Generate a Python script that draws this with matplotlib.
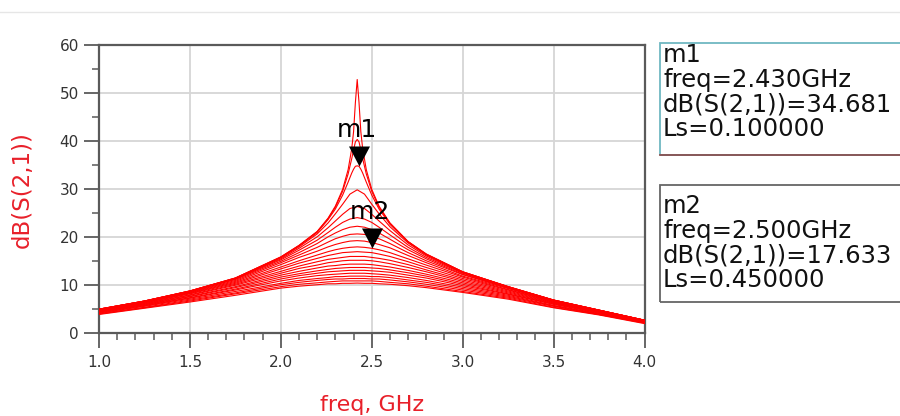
import numpy as np
import matplotlib
matplotlib.use("Agg")
import matplotlib.pyplot as plt
from matplotlib.ticker import MultipleLocator
from matplotlib.patches import Rectangle
from matplotlib.lines import Line2D

plt.rcParams['font.family'] = ['DejaVu Sans']

# ---------------- data ----------------
freq_sharp = [1.0, 1.25, 1.5, 1.75, 2.0, 2.1, 2.2, 2.26, 2.3, 2.34, 2.37, 2.39, 2.4, 2.41,
              2.42, 2.43, 2.44, 2.45, 2.47, 2.5, 2.54, 2.6, 2.7, 2.8, 3.0, 3.25, 3.5, 3.75, 4.0]
ls_sharp = [0.00, 0.05, 0.10]
db_ls000 = [4.9, 6.6, 8.7, 11.4, 15.8, 18.2, 21.1, 23.9, 26.4, 29.9, 34.0, 38.4, 41.9, 48.0,
            52.8, 48.0, 41.9, 38.4, 34.0, 29.9, 26.4, 22.9, 19.0, 16.4, 12.7, 9.6, 6.8, 4.7, 2.6]
db_ls005 = [4.9, 6.6, 8.7, 11.4, 15.8, 18.2, 21.1, 23.8, 26.2, 29.5, 33.1, 36.3, 38.1, 39.8,
            40.3, 39.8, 38.1, 36.3, 33.1, 29.5, 26.2, 22.8, 19.0, 16.4, 12.7, 9.6, 6.8, 4.7, 2.6]
db_ls010 = [4.9, 6.6, 8.7, 11.4, 15.7, 18.1, 20.9, 23.6, 25.8, 28.7, 31.4, 33.3, 34.1, 34.7,
            34.8, 34.7, 34.1, 33.3, 31.4, 28.7, 25.8, 22.6, 18.9, 16.3, 12.7, 9.6, 6.8, 4.7, 2.6]

freq_broad = [1.0, 1.25, 1.5, 1.75, 2.0, 2.1, 2.2, 2.26, 2.3, 2.34, 2.38, 2.42, 2.46, 2.5,
              2.54, 2.6, 2.7, 2.8, 3.0, 3.25, 3.5, 3.75, 4.0]
ls_broad = [0.15, 0.20, 0.25, 0.30, 0.35, 0.40, 0.45, 0.50, 0.55, 0.60, 0.65, 0.70,
            0.75, 0.80, 0.85, 0.90, 0.95, 1.00]
db_broad = [
    [4.9, 6.6, 8.7, 11.3, 15.6, 17.9, 20.6, 22.9, 24.8, 26.8, 28.9, 29.8, 28.9, 26.8, 24.8, 22.1, 18.7, 16.2, 12.6, 9.6, 6.8, 4.7, 2.6],
    [4.9, 6.6, 8.6, 11.3, 15.4, 17.6, 20.0, 21.9, 23.3, 24.7, 25.9, 26.3, 25.9, 24.7, 23.3, 21.3, 18.3, 16.0, 12.5, 9.5, 6.8, 4.7, 2.6],
    [4.8, 6.5, 8.6, 11.2, 15.2, 17.2, 19.3, 20.9, 22.0, 23.0, 23.7, 24.0, 23.7, 23.0, 22.0, 20.4, 17.8, 15.7, 12.4, 9.4, 6.7, 4.7, 2.6],
    [4.8, 6.5, 8.5, 11.1, 14.9, 16.7, 18.6, 20.0, 20.8, 21.5, 22.0, 22.2, 22.0, 21.5, 20.8, 19.5, 17.3, 15.4, 12.2, 9.4, 6.7, 4.6, 2.6],
    [4.8, 6.4, 8.4, 10.9, 14.6, 16.2, 17.8, 18.9, 19.6, 20.1, 20.5, 20.6, 20.5, 20.1, 19.6, 18.6, 16.7, 15.0, 12.1, 9.3, 6.6, 4.6, 2.5],
    [4.7, 6.4, 8.3, 10.7, 14.2, 15.7, 17.0, 17.9, 18.4, 18.8, 19.1, 19.2, 19.1, 18.8, 18.4, 17.7, 16.1, 14.6, 11.8, 9.2, 6.6, 4.6, 2.5],
    [4.7, 6.3, 8.2, 10.5, 13.7, 15.0, 16.2, 16.9, 17.3, 17.6, 17.8, 17.9, 17.8, 17.6, 17.3, 16.7, 15.4, 14.1, 11.6, 9.0, 6.5, 4.5, 2.5],
    [4.6, 6.2, 8.1, 10.3, 13.3, 14.5, 15.5, 16.1, 16.4, 16.7, 16.8, 16.9, 16.8, 16.7, 16.4, 15.9, 14.8, 13.6, 11.3, 8.9, 6.4, 4.4, 2.4],
    [4.6, 6.1, 7.9, 10.1, 12.8, 13.9, 14.8, 15.3, 15.5, 15.7, 15.9, 15.9, 15.9, 15.7, 15.5, 15.1, 14.2, 13.1, 11.0, 8.7, 6.3, 4.4, 2.4],
    [4.5, 6.0, 7.8, 9.9, 12.4, 13.4, 14.1, 14.6, 14.8, 15.0, 15.1, 15.1, 15.1, 15.0, 14.8, 14.4, 13.6, 12.7, 10.7, 8.5, 6.2, 4.3, 2.4],
    [4.4, 5.9, 7.6, 9.6, 12.0, 12.8, 13.5, 13.9, 14.0, 14.2, 14.3, 14.3, 14.3, 14.2, 14.0, 13.7, 13.0, 12.2, 10.4, 8.3, 6.1, 4.3, 2.3],
    [4.4, 5.8, 7.5, 9.4, 11.6, 12.3, 12.9, 13.2, 13.4, 13.5, 13.6, 13.6, 13.6, 13.5, 13.4, 13.1, 12.5, 11.8, 10.1, 8.1, 6.0, 4.2, 2.3],
    [4.3, 5.7, 7.3, 9.1, 11.2, 11.9, 12.4, 12.7, 12.8, 12.9, 13.0, 13.0, 13.0, 12.9, 12.8, 12.6, 12.0, 11.4, 9.8, 8.0, 5.9, 4.1, 2.2],
    [4.2, 5.6, 7.2, 8.9, 10.8, 11.4, 11.9, 12.1, 12.2, 12.3, 12.4, 12.4, 12.4, 12.3, 12.2, 12.0, 11.5, 10.9, 9.5, 7.8, 5.7, 4.0, 2.2],
    [4.1, 5.5, 7.0, 8.6, 10.3, 10.9, 11.3, 11.5, 11.7, 11.7, 11.8, 11.8, 11.8, 11.7, 11.7, 11.5, 11.0, 10.5, 9.2, 7.6, 5.6, 3.9, 2.1],
    [4.0, 5.3, 6.8, 8.3, 10.0, 10.5, 10.9, 11.1, 11.2, 11.2, 11.3, 11.3, 11.3, 11.2, 11.2, 11.0, 10.6, 10.1, 8.9, 7.4, 5.5, 3.8, 2.1],
    [3.9, 5.2, 6.6, 8.1, 9.6, 10.1, 10.4, 10.6, 10.7, 10.8, 10.8, 10.8, 10.8, 10.8, 10.7, 10.5, 10.2, 9.7, 8.6, 7.2, 5.3, 3.8, 2.0],
    [3.8, 5.1, 6.4, 7.8, 9.3, 9.7, 10.0, 10.2, 10.2, 10.3, 10.3, 10.35, 10.3, 10.3, 10.2, 10.1, 9.8, 9.4, 8.4, 7.0, 5.2, 3.7, 1.9],
]

x_ticks = [1.0, 1.5, 2.0, 2.5, 3.0, 3.5, 4.0]
x_tick_labels = ['1.0', '1.5', '2.0', '2.5', '3.0', '3.5', '4.0']
y_ticks = [0, 10, 20, 30, 40, 50, 60]
y_tick_labels = ['0', '10', '20', '30', '40', '50', '60']

m1_name, m1_freq, m1_val, m1_ls = 'm1', 2.430, 34.681, 0.100000
m2_name, m2_freq, m2_val, m2_ls = 'm2', 2.500, 17.633, 0.450000

# ---------------- figure ----------------
W, H = 900, 416
fig = plt.figure(figsize=(W / 100, H / 100), dpi=100)
fig.patch.set_facecolor('white')

def fx(px):
    return px / W

def fy(py):
    return 1 - py / H

ax_l, ax_r, ax_t, ax_b = 99, 644.5, 45, 332.7
ax = fig.add_axes([fx(ax_l), fy(ax_b), (ax_r - ax_l) / W, (ax_b - ax_t) / H])

red = '#ff0000'
for ys in [db_ls000, db_ls005, db_ls010]:
    ax.plot(freq_sharp, ys, color=red, lw=0.8, zorder=3)
for ys in db_broad:
    ax.plot(freq_broad, ys, color=red, lw=0.8, zorder=3)

ax.set_xlim(1.0, 4.0)
ax.set_ylim(0, 60)
ax.set_xticks(x_ticks)
ax.set_xticklabels(x_tick_labels)
ax.set_yticks(y_ticks)
ax.set_yticklabels(y_tick_labels)
ax.xaxis.set_minor_locator(MultipleLocator(0.1))
ax.yaxis.set_minor_locator(MultipleLocator(5))
ax.set_axisbelow(True)
ax.grid(which='major', color='#d6d6d6', lw=1.3)
axis_gray = '#5a5a5a'
ax.tick_params(which='major', direction='out', length=11, width=1.3, color=axis_gray,
               labelsize=11, labelcolor='#333333')
ax.tick_params(axis='x', which='major', pad=5)
ax.tick_params(axis='y', which='major', pad=3.5)
ax.tick_params(which='minor', direction='out', length=5, width=1.1, color=axis_gray)
for sp in ax.spines.values():
    sp.set_color(axis_gray)
    sp.set_linewidth(1.6)

# markers
tri = [(0, 0), (-0.525, 1), (0.525, 1)]
for name, f, v in [(m1_name, m1_freq, m1_val), (m2_name, m2_freq, m2_val)]:
    ax.plot([f], [v], marker=tri, ms=28.8, color='black', mew=0, zorder=6, clip_on=False)
    ax.annotate(name, xy=(f, v), xytext=(-1.5, 26), textcoords='offset points',
                ha='center', va='center', fontsize=18, color='black', zorder=7)

# axis labels
label_red = '#e8202a'
fig.text(fx(372), fy(405), 'freq, GHz', color=label_red, fontsize=16, ha='center', va='center')
fig.text(fx(22), fy(190), 'dB(S(2,1))', color=label_red, fontsize=16.5, ha='center',
         va='center', rotation=90)

# faint top rule
fig.add_artist(Line2D([0, 1], [fy(12), fy(12)], transform=fig.transFigure, color='#e6e6e6', lw=1))

# marker readout boxes
fig.add_artist(Rectangle((fx(660), fy(155)), fx(905) - fx(660), (155 - 43) / H,
                         transform=fig.transFigure, fill=False, edgecolor='#6fb8c2', lw=1.3))
fig.add_artist(Line2D([fx(660), fx(905)], [fy(155), fy(155)], transform=fig.transFigure,
                      color='#8a5050', lw=1.3))
fig.add_artist(Rectangle((fx(660), fy(301.7)), fx(905) - fx(660), (301.7 - 185) / H,
                         transform=fig.transFigure, fill=False, edgecolor='#666666', lw=1.3))

box1 = [m1_name, f'freq={m1_freq:.3f}GHz', f'dB(S(2,1))={m1_val:.3f}', f'Ls={m1_ls:.6f}']
box2 = [m2_name, f'freq={m2_freq:.3f}GHz', f'dB(S(2,1))={m2_val:.3f}', f'Ls={m2_ls:.6f}']
for lines, y0 in [(box1, 55), (box2, 206)]:
    for i, s in enumerate(lines):
        fig.text(fx(663), fy(y0 + 24.6 * i), s, fontsize=17.5, ha='left', va='center', color='#111111')

fig.savefig('out.png', dpi=100, facecolor='white')
